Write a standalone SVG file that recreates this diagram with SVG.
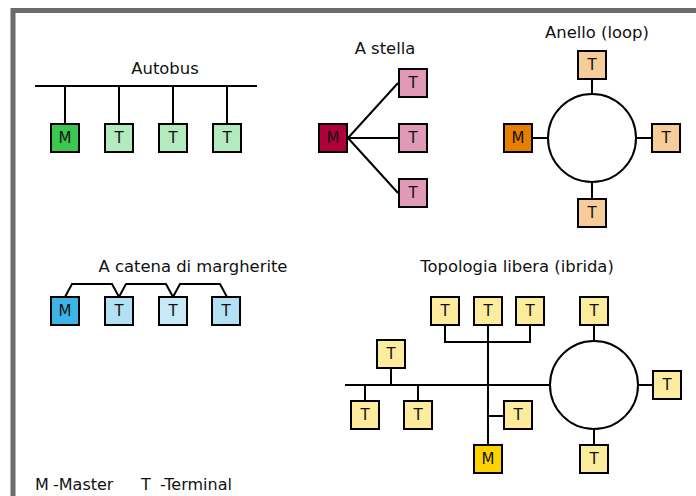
<svg xmlns="http://www.w3.org/2000/svg" width="696" height="496" viewBox="0 0 696 496">
<style>
text{font-family:"DejaVu Sans","Liberation Sans",sans-serif;fill:#111}
.title{font-size:16.4px;text-anchor:middle}
.lbl{font-size:15px;text-anchor:middle;dominant-baseline:central}
.leg{font-size:16px}
.box{stroke:#000;stroke-width:2}
.ln{stroke:#000;stroke-width:2;fill:none}
.ring{stroke:#000;stroke-width:2;fill:#fff}
</style>
<rect x="0" y="0" width="696" height="496" fill="#fff"/>
<rect x="13" y="10.5" width="700" height="500" fill="none" stroke="#6b6b70" stroke-width="5"/>

<g id="titles">
<text class="title" x="165" y="74">Autobus</text>
<text class="title" x="385" y="54">A stella</text>
<text class="title" x="597" y="38">Anello (loop)</text>
<text class="title" x="193" y="272">A catena di margherite</text>
<text class="title" x="517" y="272">Topologia libera (ibrida)</text>
</g>

<g id="connectors">
<path class="ln" d="M35 86H257M65 86V124M119 86V124M173 86V124M227 86V124"/>
<path class="ln" d="M348 138L398 83M348 138H398M348 138L398 193"/>
<circle class="ring" cx="592" cy="138" r="44"/>
<path class="ln" d="M533 138H548M636 138H651M592 80V94M592 182V198"/>
<path class="ln" d="M65 297L72 284H112L119 297L126 284H166L173 297L180 284H220L227 297"/>
<path class="ln" d="M345 385H550M365 385V401M418 385V401M391 368V385M488 326V445M445 326V342H530V326M488 416H504"/>
<circle class="ring" cx="594" cy="385" r="44"/>
<path class="ln" d="M594 326V341M638 385H652M594 429V445"/>
</g>

<g id="bus-M"><rect class="box" x="51" y="124" width="28" height="28" fill="#3cc850"/><text class="lbl" x="65" y="138">M</text></g>
<g id="bus-T1"><rect class="box" x="105" y="124" width="28" height="28" fill="#b3ebbf"/><text class="lbl" x="119" y="138">T</text></g>
<g id="bus-T2"><rect class="box" x="159" y="124" width="28" height="28" fill="#b3ebbf"/><text class="lbl" x="173" y="138">T</text></g>
<g id="bus-T3"><rect class="box" x="213" y="124" width="28" height="28" fill="#b3ebbf"/><text class="lbl" x="227" y="138">T</text></g>

<g id="star-M"><rect class="box" x="319" y="124" width="28" height="28" fill="#b0003c"/><text class="lbl" x="333" y="138">M</text></g>
<g id="star-T1"><rect class="box" x="399" y="69" width="28" height="28" fill="#e09ab6"/><text class="lbl" x="413" y="83">T</text></g>
<g id="star-T2"><rect class="box" x="399" y="124" width="28" height="28" fill="#e09ab6"/><text class="lbl" x="413" y="138">T</text></g>
<g id="star-T3"><rect class="box" x="399" y="179" width="28" height="28" fill="#e09ab6"/><text class="lbl" x="413" y="193">T</text></g>

<g id="ring-M"><rect class="box" x="504" y="124" width="28" height="28" fill="#e67e00"/><text class="lbl" x="518" y="138">M</text></g>
<g id="ring-T1"><rect class="box" x="578" y="51" width="28" height="28" fill="#f6cc9a"/><text class="lbl" x="592" y="65">T</text></g>
<g id="ring-T2"><rect class="box" x="652" y="124" width="28" height="28" fill="#f6cc9a"/><text class="lbl" x="666" y="138">T</text></g>
<g id="ring-T3"><rect class="box" x="578" y="199" width="28" height="28" fill="#f6cc9a"/><text class="lbl" x="592" y="213">T</text></g>

<g id="chain-M"><rect class="box" x="51" y="297" width="28" height="28" fill="#3cb4e6"/><text class="lbl" x="65" y="311">M</text></g>
<g id="chain-T1"><rect class="box" x="105" y="297" width="28" height="28" fill="#b4e0f4"/><text class="lbl" x="119" y="311">T</text></g>
<g id="chain-T2"><rect class="box" x="159" y="297" width="28" height="28" fill="#c8eaf8"/><text class="lbl" x="173" y="311">T</text></g>
<g id="chain-T3"><rect class="box" x="212" y="297" width="28" height="28" fill="#b4e0f4"/><text class="lbl" x="226" y="311">T</text></g>

<g id="hy-T1"><rect class="box" x="351" y="401" width="28" height="28" fill="#fdeb9e"/><text class="lbl" x="365" y="415">T</text></g>
<g id="hy-T2"><rect class="box" x="404" y="401" width="28" height="28" fill="#fdeb9e"/><text class="lbl" x="418" y="415">T</text></g>
<g id="hy-T3"><rect class="box" x="377" y="340" width="28" height="28" fill="#fdeb9e"/><text class="lbl" x="391" y="354">T</text></g>
<g id="hy-T4"><rect class="box" x="431" y="297" width="28" height="28" fill="#fdeb9e"/><text class="lbl" x="445" y="311">T</text></g>
<g id="hy-T5"><rect class="box" x="474" y="297" width="28" height="28" fill="#fdeb9e"/><text class="lbl" x="488" y="311">T</text></g>
<g id="hy-T6"><rect class="box" x="516" y="297" width="28" height="28" fill="#fdeb9e"/><text class="lbl" x="530" y="311">T</text></g>
<g id="hy-T7"><rect class="box" x="504" y="401" width="28" height="28" fill="#fdeb9e"/><text class="lbl" x="518" y="415">T</text></g>
<g id="hy-M"><rect class="box" x="474" y="445" width="28" height="28" fill="#fdd200"/><text class="lbl" x="488" y="459">M</text></g>
<g id="hy-T8"><rect class="box" x="580" y="297" width="28" height="28" fill="#fdeb9e"/><text class="lbl" x="594" y="311">T</text></g>
<g id="hy-T9"><rect class="box" x="653" y="371" width="28" height="28" fill="#fdeb9e"/><text class="lbl" x="667" y="385">T</text></g>
<g id="hy-T10"><rect class="box" x="580" y="445" width="28" height="28" fill="#fdeb9e"/><text class="lbl" x="594" y="459">T</text></g>

<g id="legend">
<text class="leg" y="490"><tspan x="35">M</tspan><tspan x="53">-Master</tspan></text>
<text class="leg" y="490"><tspan x="141">T</tspan><tspan x="160">-Terminal</tspan></text>
</g>
</svg>
